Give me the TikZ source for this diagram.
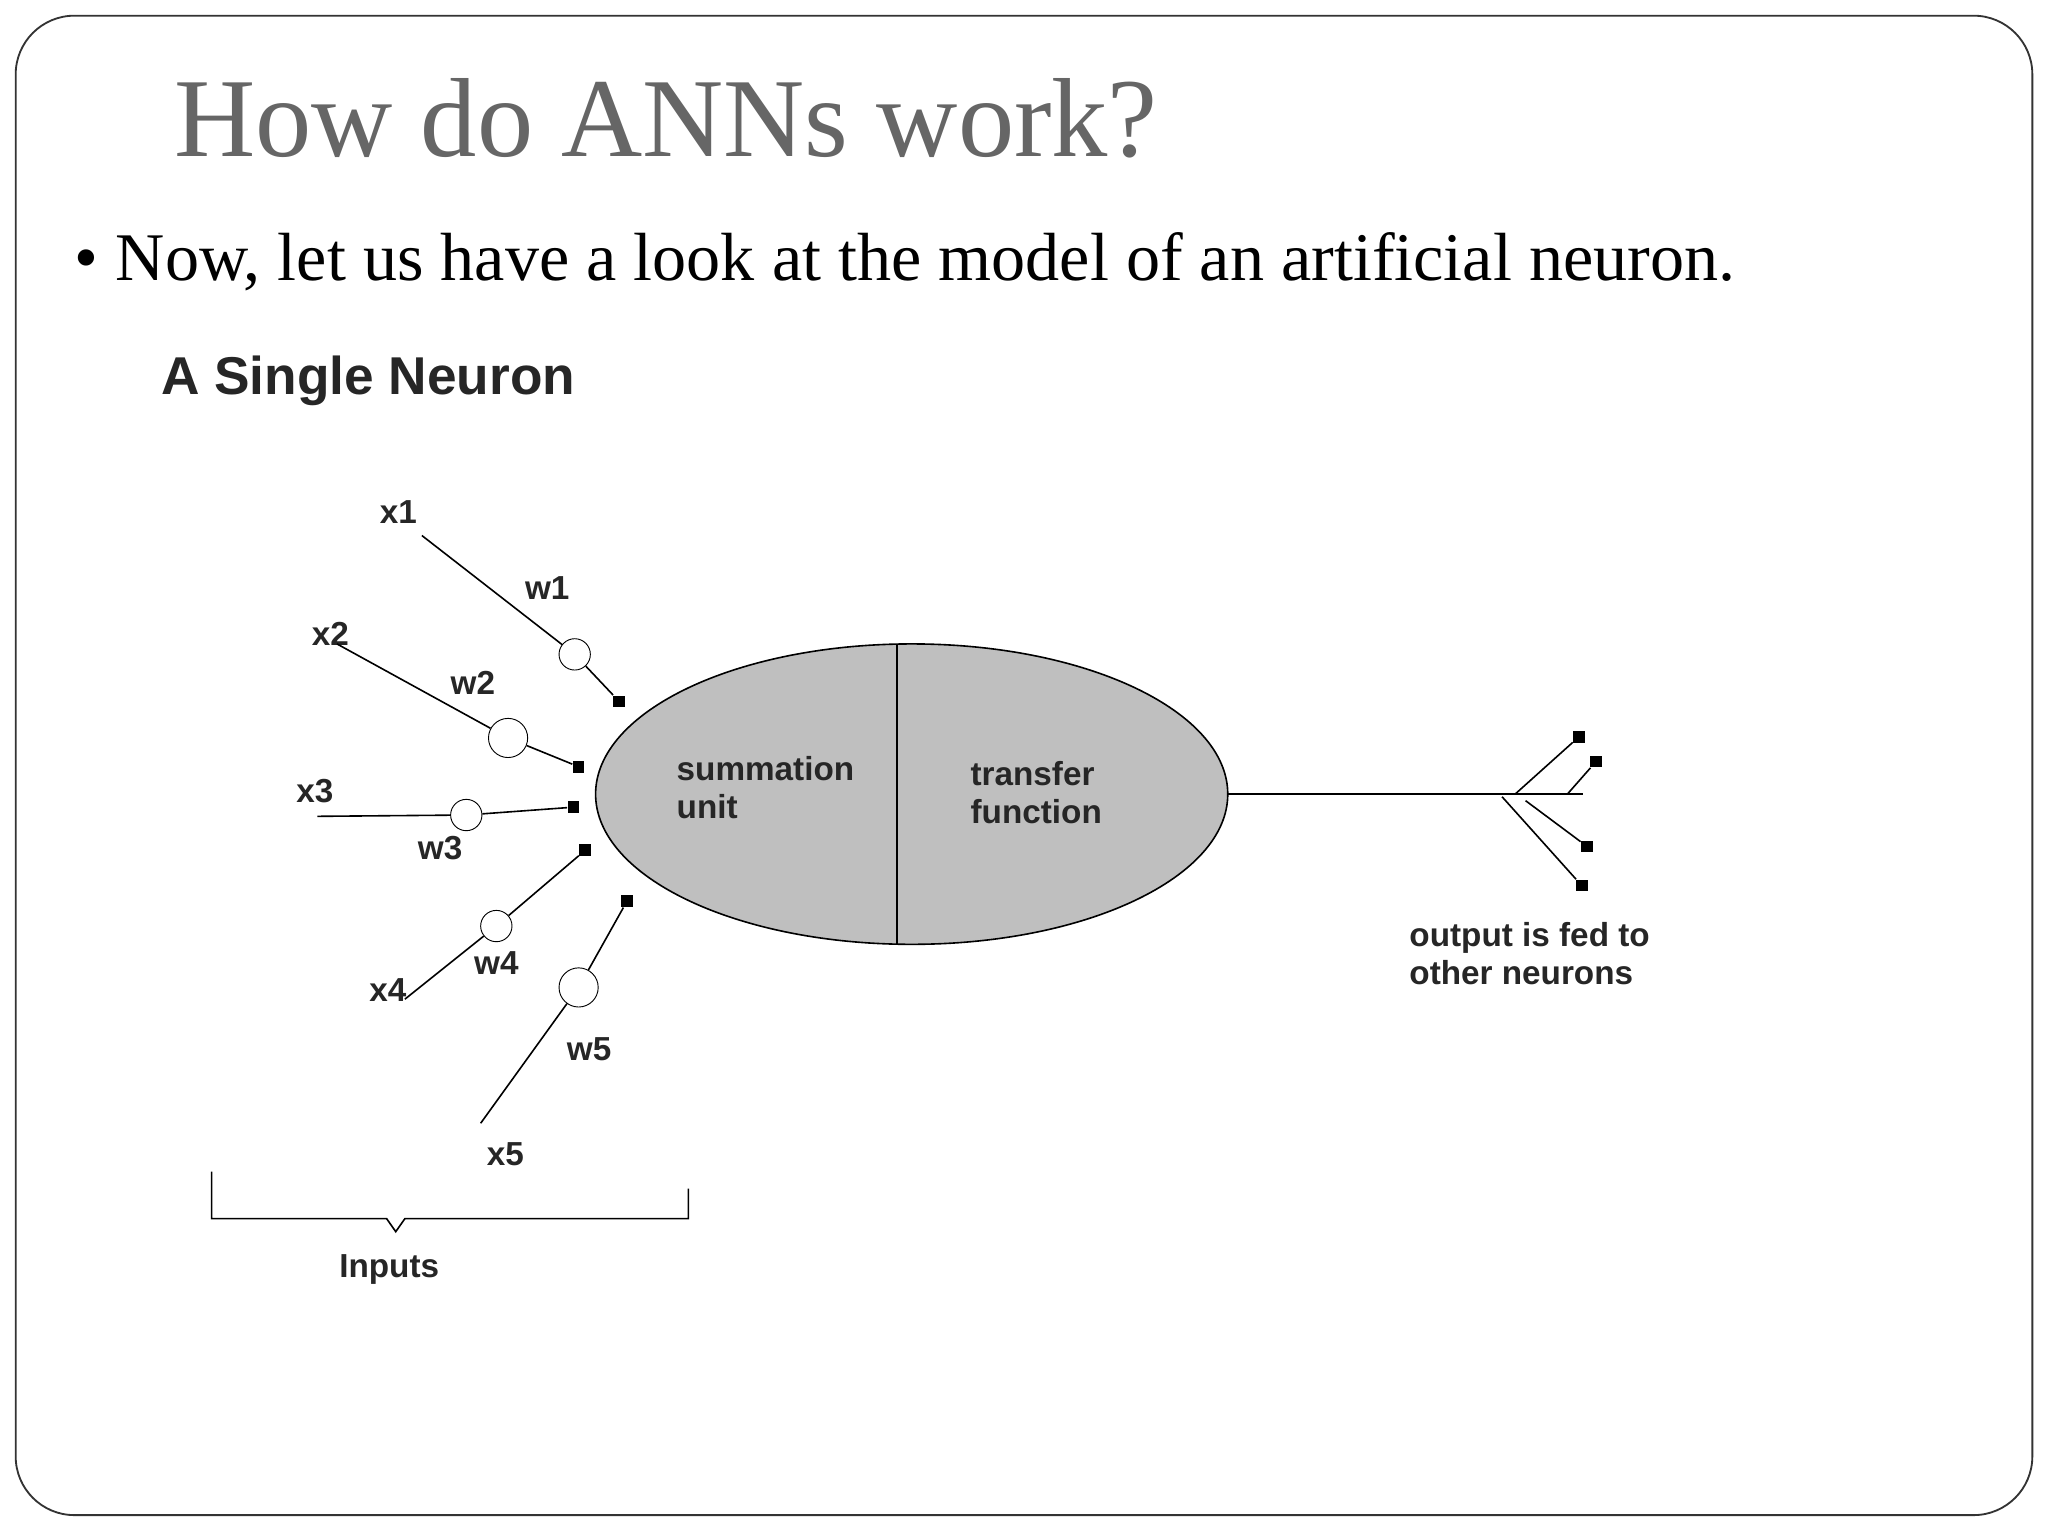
\documentclass[tikz,border=0pt]{standalone}
\usepackage{fontspec}
\setmainfont{Liberation Serif}
\newfontfamily\ar{Liberation Sans}
\begin{document}
\begin{tikzpicture}[x=0.02cm,y=-0.02cm,
  lbl/.style={font=\ar\bfseries\fontsize{14.5}{16.5}\selectfont, text=black!85, inner sep=1pt},
  wc/.style={circle,draw,fill=white,inner sep=0pt},
  sq/.style={rectangle,fill=black,inner sep=0pt,minimum size=0.18cm},
  ln/.style={line width=0.7pt}]
\useasboundingbox (0,0) rectangle (1568,1176);
\draw[line width=0.8pt,black!80,rounded corners=0.9cm] (12,12) rectangle (1556,1160);
\node[anchor=base west,inner sep=0,text=black!60,font=\fontsize{49}{52}\selectfont] (title) at (133,120) {How do ANNs work?};
\node[anchor=base west,inner sep=0,font=\fontsize{29.7}{33}\selectfont] (bul) at (57,215) {\textbullet\ Now, let us have a look at the model of an artificial neuron.};
\node[anchor=base west,inner sep=0,font=\ar\bfseries\fontsize{23.2}{25}\selectfont,text=black!85] (head) at (123,302) {A Single Neuron};
% neuron
\draw[ln,fill=black!25] (698,608) ellipse [x radius=242, y radius=115];
\coordinate (nt) at (687,493); \coordinate (nb) at (687,723);
\draw[line width=1pt] (nt) -- (nb);
\node[lbl,align=left,anchor=west] (sum) at (516,603) {summation\\unit};
\node[lbl,align=left,anchor=west] (tf) at (741,607) {transfer\\function};
% inputs
\foreach \n/\xx/\xy/\lx/\ly/\cx/\cy/\r/\sx/\sy/\wx/\wy in {
 1/323/410/305/392/440/501/12/474/537/419/450,
 2/258/493/253/485/389/565/15/443/587/362/523,
 3/243/625/241/606/357/624/12/439/618/337/649,
 4/310/765/297/758/380/709/12/448/651/380/737,
 5/368/860/387/884/443/756/15/480/690/451/803}{
  \node[lbl] (x\n) at (\lx,\ly) {x\n};
  \coordinate (s\n) at (\xx,\xy);
  \node[wc,minimum size=\r*0.04cm] (c\n) at (\cx,\cy) {};
  \node[sq] (q\n) at (\sx,\sy) {};
  \node[lbl] (w\n) at (\wx,\wy) {w\n};
  \draw[ln] (s\n) -- (c\n) -- (q\n);
}
% output
\coordinate (oe) at (1212,608);
\draw[ln] (940,608) -- (oe);
\node[sq] (o1) at (1209,564) {};
\node[sq] (o2) at (1222,583) {};
\node[sq] (o3) at (1215,648) {};
\node[sq] (o4) at (1211,678) {};
\coordinate (b1) at (1160,608); \coordinate (b2) at (1200,608);
\coordinate (b3) at (1168,613); \coordinate (b4) at (1150,610);
\draw[ln] (b1) -- (o1); \draw[ln] (b2) -- (o2); \draw[ln] (b3) -- (o3); \draw[ln] (b4) -- (o4);
\node[lbl,align=left,anchor=west] (out) at (1077,730) {output is fed to\\other neurons};
% brace
\coordinate (br1) at (162,897); \coordinate (br2) at (527,910);
\draw[ln] (br1) -- (162,933) -- (296,933) -- (303,943) -- (310,933) -- (527,933) -- (br2);
\node[lbl] (inp) at (298,972) {Inputs};
\end{tikzpicture}
\end{document}
